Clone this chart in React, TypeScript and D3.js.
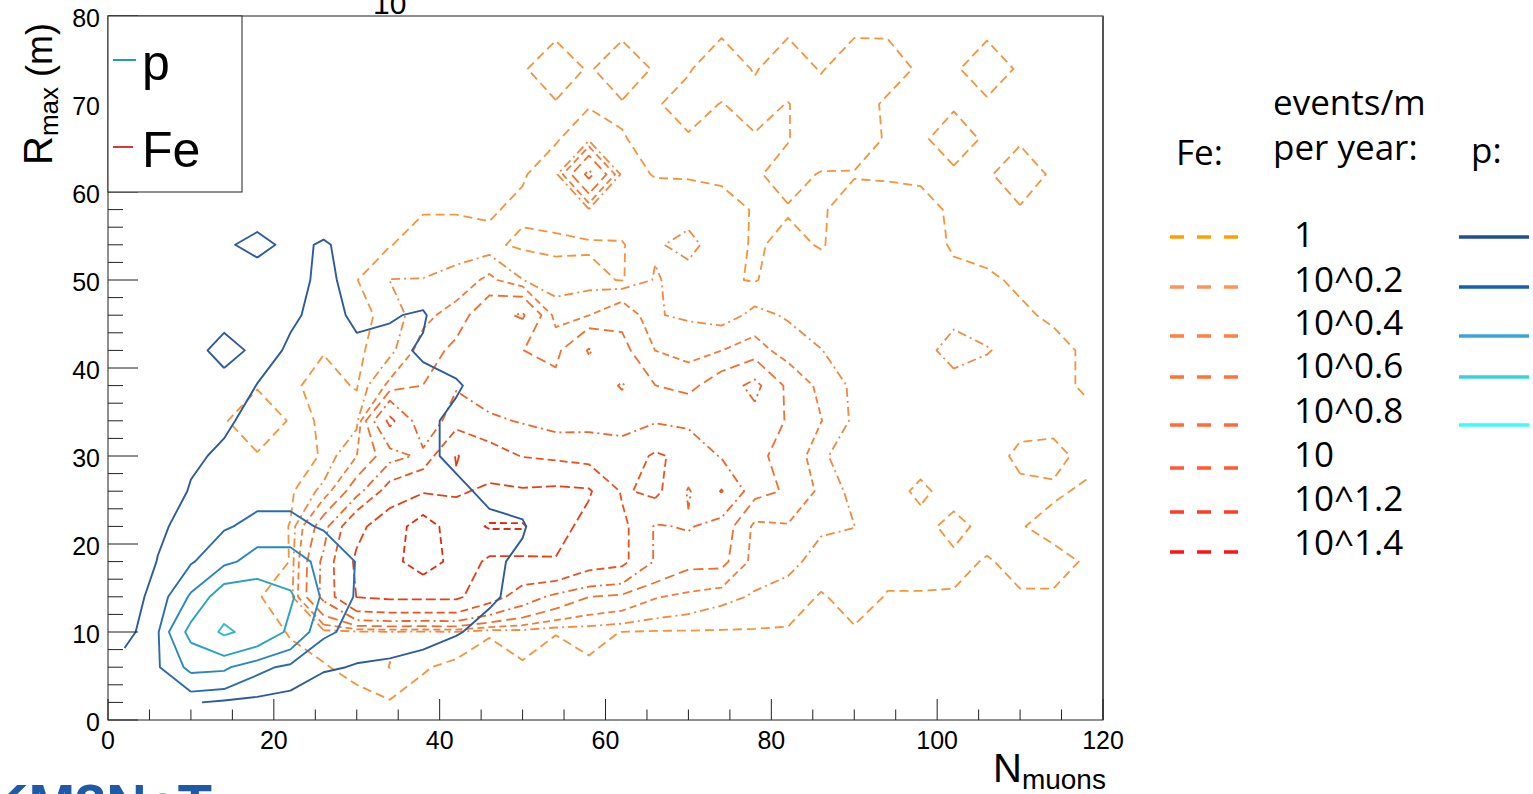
import React from 'react';
import * as d3 from 'd3';

type Pt = [number, number];

// bin centres of the 2D histograms (4 x 4 units)
const X_CENTERS = d3.range(30).map(i => 2 + 4 * i);
const Y_CENTERS = d3.range(20).map(j => 2 + 4 * j);

// Fe: events/m per year, rows from y=78 (top) down to y=2, columns x=2..118
const FE_ROWS: number[][] = [
  [0,0,0,0,0,0,0,0,0,0.1,0.3,0.5,0.7,0.9,0.8,0.9,0.8,0.8,0.95,0.8,0.95,0.85,0.95,0.95,0.7,0.6,0.9,0.6,0.3,0],
  [0,0,0,0,0,0,0,0,0,0.1,0.4,0.7,0.93,1.4,0.93,1.4,0.93,0.95,1.35,0.95,1.35,0.95,1.35,1.3,0.9,0.9,1.4,0.9,0.5,0.2],
  [0,0,0,0,0,0,0,0,0,0.2,0.3,0.5,0.7,0.95,0.95,0.95,0.95,1.2,0.98,1.2,0.98,1.3,1.3,0.9,0.8,0.92,0.9,0.8,0.5,0.2],
  [0,0,0,0,0,0,0,0,0,0.2,0.4,0.6,0.8,0.95,1.35,1.02,0.9,0.95,0.9,0.95,0.98,1.3,1.25,0.95,0.9,1.3,0.9,0.92,0.7,0.4],
  [0,0,0,0,0,0,0,0,0.2,0.4,0.6,0.8,0.95,1.3,7,1.3,0.95,0.95,0.95,0.95,1.15,0.97,0.97,0.95,0.95,0.9,0.92,1.35,0.9,0.5],
  [0,0,0,0,0,0,0.3,0.5,0.7,0.95,0.95,0.95,1.1,1.2,1.5,1.4,1.45,1.3,1.1,0.98,0.97,0.95,1.2,1.2,1.1,0.95,0.9,0.95,0.8,0.5],
  [0,0,0,0,0.1,0.4,0.6,0.85,0.97,1.3,1.3,1.1,0.9,0.9,0.92,0.95,1.5,1.8,1.2,0.95,1.1,0.97,1.2,1.2,1.2,0.95,0.9,0.9,0.85,0.6],
  [0,0,0,0.1,0.3,0.5,0.8,0.98,1.6,1.6,1.8,2.8,1.6,1.2,1.2,0.95,1.65,1.3,1.1,0.95,1.4,1.2,1.2,1.2,1.2,1.1,1.05,0.95,0.9,0.6],
  [0,0,0,0.1,0.3,0.6,0.9,0.95,1.05,2.2,3,5.5,6.6,2,2.5,3.5,1.62,1.5,1.2,1.8,1.5,1.3,1.2,1.15,1.2,1.3,1.1,1.05,0.95,0.7],
  [0,0,0,0.2,0.5,0.8,0.97,0.9,1.3,3,4.5,5,4,3.5,6.5,4.5,2.5,2,2.5,3,2,1.6,1.3,1.2,1.2,2.0,1.65,1.2,1.1,0.95],
  [0,0,0,0.3,0.95,0.9,1.2,0.95,2.8,4,6,4,5,4.5,5,6.5,4,3.5,5,7,3.5,2.2,1.4,1.2,1.2,1.2,1.1,1.1,1.1,0.95],
  [0,0,0,0.95,1.4,0.95,1.02,1.3,11,4,8,7,6,5,5.5,5,6,5.5,6,5.5,3.8,2.55,1.4,1.25,1.2,1.2,1.2,1.15,1.1,1.1],
  [0,0,0,0.5,0.95,0.9,1.02,2.5,5,7,16.2,12,9.8,9,8,8,10.5,9,6,4.3,3.5,1.7,1.2,1.2,1.2,1.2,1.2,0.9,0.9,1.1],
  [0,0,0,0.2,0.6,0.9,1.8,5,12,15,15,17,16.5,17,16.5,9.5,11,6,10.2,4.5,3.8,2.2,1.3,1.2,0.9,1.2,1.15,1.1,1.05,0.95],
  [0,0,0,0.2,0.7,1.02,5,14,20,30,20,26,26,18,14,11,6,6.6,5,2.2,2.4,1.7,1.6,1.2,1.15,0.85,1.15,1.02,0.9,0.9],
  [0,0,0,0.3,0.6,1.02,6.9,17,22,30,22,14,14,15.5,12,11,6,4.5,4.5,2.0,1.8,1.3,1.2,1.15,1.15,1.1,0.97,1.1,1.1,0.97],
  [0,0,0,0.4,0.97,1.2,7,16,17,17,17,12,8,5.5,4,3.5,2.6,2.2,1.8,1.5,1.28,0.95,1.2,0.97,0.97,0.97,0.8,0.97,0.97,0.7],
  [0,0,0,0.3,0.7,1.05,1.3,1.4,1.5,1.4,1.5,1.02,1.2,1.01,1.1,0.99,0.95,0.95,0.95,0.95,0.95,0.8,0.95,0.8,0.7,0.7,0.6,0.6,0.6,0.5],
  [0,0,0,0.2,0.5,0.8,0.95,1.2,1.6,1.05,0.85,0.9,0.95,0.9,0.95,0.8,0.7,0.7,0.7,0.6,0.6,0.5,0.5,0.4,0.4,0.3,0.3,0.2,0.2,0.1],
  [0,0,0,0,0.2,0.4,0.6,0.8,0.95,0.8,0.6,0.6,0.8,0.6,0.7,0.5,0.4,0.4,0.3,0.3,0.2,0.1,0.1,0.1,0.1,0.1,0.1,0,0,0],
];

// p: events/m per year, rows from y=78 (top) down to y=2, columns x=2..118
const P_ROWS: number[][] = [
  [0,0,0,0,0,0,0,0,0,0,0,0,0,0,0,0,0,0,0,0,0,0,0,0,0,0,0,0,0,0],
  [0,0,0,0,0,0,0,0,0,0,0,0,0,0,0,0,0,0,0,0,0,0,0,0,0,0,0,0,0,0],
  [0,0,0,0,0,0,0,0,0,0,0,0,0,0,0,0,0,0,0,0,0,0,0,0,0,0,0,0,0,0],
  [0,0,0,0,0,0,0,0,0,0,0,0,0,0,0,0,0,0,0,0,0,0,0,0,0,0,0,0,0,0],
  [0,0,0,0,0,0,0,0,0,0,0,0,0,0,0,0,0,0,0,0,0,0,0,0,0,0,0,0,0,0],
  [0,0,0,0.1,0.3,0.2,0.2,0.1,0,0,0,0,0,0,0,0,0,0,0,0,0,0,0,0,0,0,0,0,0,0],
  [0,0,0.3,0.8,1.4,0.67,1.14,0.5,0.3,0.2,0.1,0,0,0,0,0,0,0,0,0,0,0,0,0,0,0,0,0,0,0],
  [0,0,0.2,0.4,0.3,0.7,1.2,0.7,0.5,0.7,0.3,0.1,0,0,0,0,0,0,0,0,0,0,0,0,0,0,0,0,0,0],
  [0,0,0.2,0.5,0.4,0.9,1.2,0.9,0.97,1.05,0.6,0.3,0.1,0,0,0,0,0,0,0,0,0,0,0,0,0,0,0,0,0],
  [0,0,0.5,1.5,0.7,1.1,1.2,1.1,1.1,0.95,0.8,0.5,0.2,0,0,0,0,0,0,0,0,0,0,0,0,0,0,0,0,0],
  [0,0,0.2,0.5,1.02,1.2,1.2,1.2,1.15,1.1,1.05,0.8,0.4,0,0,0,0,0,0,0,0,0,0,0,0,0,0,0,0,0],
  [0,0,0.5,0.9,1.2,1.3,1.3,1.3,1.25,1.1,0.9,0.5,0.2,0,0,0,0,0,0,0,0,0,0,0,0,0,0,0,0,0],
  [0,0.3,0.9,1.1,1.3,1.3,1.3,1.3,1.3,1.1,0.9,0.5,0.2,0,0,0,0,0,0,0,0,0,0,0,0,0,0,0,0,0],
  [0.1,0.6,1.05,1.2,1.3,1.3,1.3,1.3,1.3,1.2,1.1,0.9,0.8,0.3,0,0,0,0,0,0,0,0,0,0,0,0,0,0,0,0],
  [0.3,0.9,1.2,1.5,1.8,1.8,1.5,1.55,1.4,1.3,1.25,1.1,1.05,0.6,0,0,0,0,0,0,0,0,0,0,0,0,0,0,0,0],
  [0.5,1.02,1.5,2.2,3.0,3.0,2.2,1.55,1.4,1.3,1.25,1.1,0.9,0.3,0,0,0,0,0,0,0,0,0,0,0,0,0,0,0,0],
  [0.85,1.1,2.65,5.0,5.0,4.2,2.3,1.5,1.4,1.3,1.2,1.1,0.8,0.2,0,0,0,0,0,0,0,0,0,0,0,0,0,0,0,0],
  [0.75,1.5,4.5,6.7,5.5,3.6,1.7,1.4,1.3,1.2,1.05,0.8,0.3,0,0,0,0,0,0,0,0,0,0,0,0,0,0,0,0,0],
  [1.3,1.5,2.8,2.7,1.8,1.4,1.1,0.95,0.9,0.8,0.6,0.3,0.1,0,0,0,0,0,0,0,0,0,0,0,0,0,0,0,0,0],
  [1.2,1.2,1.05,0.9,0.85,0.8,0.4,0.2,0,0,0,0,0,0,0,0,0,0,0,0,0,0,0,0,0,0,0,0,0,0],
];

const FE_EXPONENTS = [0, 0.2, 0.4, 0.6, 0.8, 1, 1.2, 1.4];
const P_EXPONENTS = [0, 0.2, 0.4, 0.6, 0.8];
const LEVEL_LABELS = ['1', '10^0.2', '10^0.4', '10^0.6', '10^0.8', '10', '10^1.2', '10^1.4'];
const X_TICKS = [0, 20, 40, 60, 80, 100, 120];
const Y_TICKS = [0, 10, 20, 30, 40, 50, 60, 70, 80];

// styles
const FE_COLORS = ['#f2953c', '#f08a40', '#ef7e38', '#ed7230', '#eb672a', '#e75422', '#e24018', '#dd2c10'];
const FE_DASH = ['9,5', '9,4,2,4', '7,4', '10,5', '9,4,2,4', '8,4', '10,4', '7,4'];
const P_COLORS = ['#2d5c9c', '#2a6cae', '#2a88bc', '#2aa2c0', '#33bac8'];
const FE_LEG_COLORS = ['#ffa000', '#ff9458', '#ff8040', '#ff7434', '#ff6c38', '#ff5a34', '#ff3c24', '#ff1414'];
const P_LEG_COLORS = ['#1c4f96', '#1660b2', '#3aa6d8', '#3ad2d8', '#40fafa'];
const LEG_LINE_Y = [237, 287, 336, 377, 425, 468, 512, 552];
const LEG_TEXT_Y = [247, 292, 335, 378, 423, 467, 511, 555];

function isolines(rowsTopDown: number[][], level: number): Pt[][] {
  const rows = rowsTopDown.slice().reverse();
  const nr = rows.length, nc = rows[0].length;
  const pts = new Map<string, Pt>();
  const adj = new Map<string, string[]>();
  const cross = (c1: number, r1: number, c2: number, r2: number): string => {
    const key = `${c1},${r1}-${c2},${r2}`;
    if (!pts.has(key)) {
      const a = rows[r1][c1], b = rows[r2][c2];
      const t = (level - a) / (b - a);
      pts.set(key, [
        X_CENTERS[c1] + t * (X_CENTERS[c2] - X_CENTERS[c1]),
        Y_CENTERS[r1] + t * (Y_CENTERS[r2] - Y_CENTERS[r1]),
      ]);
    }
    return key;
  };
  const link = (a: string, b: string) => {
    if (!adj.has(a)) adj.set(a, []);
    if (!adj.has(b)) adj.set(b, []);
    adj.get(a)!.push(b);
    adj.get(b)!.push(a);
  };
  for (let r = 0; r < nr - 1; r++) {
    for (let c = 0; c < nc - 1; c++) {
      const A = rows[r][c] >= level, B = rows[r][c + 1] >= level;
      const C = rows[r + 1][c + 1] >= level, D = rows[r + 1][c] >= level;
      const bottom = A !== B ? cross(c, r, c + 1, r) : null;
      const right = B !== C ? cross(c + 1, r, c + 1, r + 1) : null;
      const top = D !== C ? cross(c, r + 1, c + 1, r + 1) : null;
      const left = A !== D ? cross(c, r, c, r + 1) : null;
      const list = [bottom, right, top, left].filter(v => v !== null) as string[];
      if (list.length === 2) link(list[0], list[1]);
      else if (list.length === 4) {
        const center = (rows[r][c] + rows[r][c + 1] + rows[r + 1][c + 1] + rows[r + 1][c]) / 4 >= level;
        if (A === center) { link(bottom!, right!); link(top!, left!); }
        else { link(bottom!, left!); link(right!, top!); }
      }
    }
  }
  const used = new Set<string>();
  const ek = (a: string, b: string) => (a < b ? a + '|' + b : b + '|' + a);
  const walk = (start: string): Pt[] => {
    const line = [start];
    let cur = start;
    for (;;) {
      const nb = (adj.get(cur) || []).find(n => !used.has(ek(cur, n)));
      if (nb === undefined) break;
      used.add(ek(cur, nb));
      line.push(nb);
      cur = nb;
    }
    return line.map(s => pts.get(s)!);
  };
  const out: Pt[][] = [];
  adj.forEach((ns, k) => {
    if (ns.length === 1 && !used.has(ek(k, ns[0]))) out.push(walk(k));
  });
  adj.forEach((_ns, k) => {
    while ((adj.get(k) || []).some(n => !used.has(ek(k, n)))) out.push(walk(k));
  });
  return out;
}

export default function App() {
  const x = d3.scaleLinear().domain([0, 120]).range([108, 1103]);
  const y = d3.scaleLinear().domain([0, 80]).range([720, 16]);
  const line = d3.line<Pt>().x(d => x(d[0])).y(d => y(d[1]));

  const feLines = FE_EXPONENTS.map(e => isolines(FE_ROWS, Math.pow(10, e)));
  const pLines = P_EXPONENTS.map(e => isolines(P_ROWS, Math.pow(10, e)));

  const axisFont = '"Liberation Sans", Arial, Helvetica, sans-serif';
  const legFont = '"Open Sans", "Noto Sans", sans-serif';

  return (
    <svg width={1533} height={794} style={{ position: 'absolute', left: 0, top: 0, display: 'block' }}>
      <rect x={0} y={0} width={1533} height={794} fill="#fff" />
      {/* contours */}
      <g fill="none">
        {feLines.map((ls, i) =>
          ls.map((l, k) => (
            <path key={`fe${i}-${k}`} d={line(l) || ''} stroke={FE_COLORS[i]} strokeWidth={1.8}
              strokeDasharray={FE_DASH[i]} strokeLinejoin="round" />
          ))
        )}
        {pLines.map((ls, i) =>
          ls.map((l, k) => (
            <path key={`p${i}-${k}`} d={line(l) || ''} stroke={P_COLORS[i]} strokeWidth={1.9}
              strokeLinejoin="round" />
          ))
        )}
      </g>
      {/* frame */}
      <rect x={x(0)} y={y(80)} width={x(120) - x(0)} height={y(0) - y(80)} fill="none" stroke="#222" strokeWidth={1} />
      <line x1={x(120)} y1={y(80)} x2={x(120)} y2={y(0)} stroke="#555" strokeWidth={2} />
      {/* x ticks */}
      {d3.range(0, 121, 5).map(v => (
        <line key={`xt${v}`} x1={x(v)} x2={x(v)} y1={y(0)} y2={y(0) - (v % 20 === 0 ? 21 : 10.5)} stroke="#222" strokeWidth={1} />
      ))}
      {X_TICKS.map(v => (
        <text key={`xl${v}`} x={x(v)} y={749} fontSize={25} fontFamily={axisFont} textAnchor="middle">{v}</text>
      ))}
      {/* y ticks */}
      {d3.range(0, 81, 2).map(v => (
        <line key={`yt${v}`} x1={x(0)} x2={x(0) + (v % 10 === 0 ? 30 : 15)} y1={y(v)} y2={y(v)} stroke="#222" strokeWidth={1} />
      ))}
      {Y_TICKS.map(v => (
        <text key={`yl${v}`} x={100} y={y(v) + 11} fontSize={25} fontFamily={axisFont} textAnchor="end">{v}</text>
      ))}
      {/* axis titles */}
      <text x={993} y={782} fontSize={40} fontFamily={axisFont}>N<tspan fontSize={28} dy={7}>muons</tspan></text>
      <text transform="translate(52,165) rotate(-90)" fontSize={40} fontFamily={axisFont}>
        R<tspan fontSize={26} dy={6}>max</tspan><tspan dy={-6} fontSize={36}> (m)</tspan>
      </text>
      <text x={373} y={14} fontSize={30} fontFamily={axisFont}>10</text>
      {/* top-left legend */}
      <rect x={108} y={16} width={134} height={176} fill="#fff" stroke="#222" strokeWidth={1} />
      <line x1={113} x2={136} y1={60} y2={60} stroke="#1e9ad0" strokeWidth={2} />
      <text x={142} y={80} fontSize={50} fontFamily={axisFont}>p</text>
      <line x1={113} x2={133} y1={147} y2={147} stroke="#d53a3a" strokeWidth={2} />
      <text x={142} y={167} fontSize={50} fontFamily={axisFont}>Fe</text>
      {/* right legend */}
      <g fontFamily={legFont} fontSize={35} fill="#000">
        <text x={1176} y={165}>Fe:</text>
        <text x={1273} y={115}>events/m</text>
        <text x={1273} y={160}>per year:</text>
        <text x={1471} y={163}>p:</text>
        {LEVEL_LABELS.map((t, i) => (
          <text key={`ll${i}`} x={1294} y={LEG_TEXT_Y[i]}>{t}</text>
        ))}
      </g>
      {FE_LEG_COLORS.map((c, i) => (
        <line key={`fl${i}`} x1={1170} x2={1240} y1={LEG_LINE_Y[i]} y2={LEG_LINE_Y[i]} stroke={c} strokeWidth={3.5} strokeDasharray="14,13" />
      ))}
      {P_LEG_COLORS.map((c, i) => (
        <line key={`pl${i}`} x1={1459} x2={1529} y1={LEG_LINE_Y[i]} y2={LEG_LINE_Y[i]} stroke={c} strokeWidth={3.5} />
      ))}
      {/* partly visible logo */}
      <text x={-12} y={823} fontSize={56} fontWeight={700} fontFamily={axisFont} fill="#1f5aa6">KM3NeT</text>
    </svg>
  );
}
